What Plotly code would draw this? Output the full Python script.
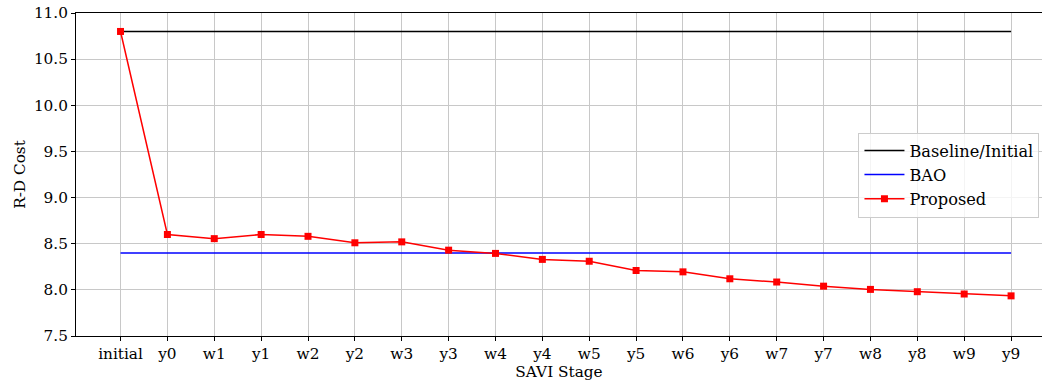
import plotly.graph_objects as go

stages = ["initial", "y0", "w1", "y1", "w2", "y2", "w3", "y3", "w4", "y4",
          "w5", "y5", "w6", "y6", "w7", "y7", "w8", "y8", "w9", "y9"]
baseline = 10.8
bao = 8.4
proposed = [10.8, 8.60, 8.555, 8.60, 8.58, 8.51, 8.52, 8.43, 8.395, 8.33,
            8.31, 8.21, 8.195, 8.12, 8.085, 8.04, 8.005, 7.98, 7.955, 7.935]

x = list(range(len(stages)))
font = "DejaVu Serif"
fs = 15.3

fig = go.Figure()
fig.add_trace(go.Scatter(x=x, y=[baseline] * len(x), mode="lines",
                         line=dict(color="black", width=1.5), name="Baseline/Initial"))
fig.add_trace(go.Scatter(x=x, y=[bao] * len(x), mode="lines",
                         line=dict(color="blue", width=1.5), name="BAO"))
fig.add_trace(go.Scatter(x=x, y=proposed, mode="lines+markers",
                         line=dict(color="red", width=1.5),
                         marker=dict(symbol="square", size=7, color="red"),
                         name="Proposed"))

fig.update_layout(
    width=1042, height=385,
    margin=dict(l=75.5, r=0, t=12.5, b=49, autoexpand=False),
    plot_bgcolor="white", paper_bgcolor="white",
    font=dict(family=font, size=fs, color="black"),
    showlegend=True,
    legend=dict(x=0.81, y=0.63, xanchor="left", yanchor="top",
                bgcolor="rgba(255,255,255,0.8)", bordercolor="#cccccc", borderwidth=1,
                font=dict(family=font, size=16.2), tracegroupgap=2, itemwidth=40),
)
fig.update_xaxes(
    tickmode="array", tickvals=x, ticktext=stages,
    range=[-0.95, 19.66], automargin=False,
    showgrid=True, gridcolor="#c8c8c8", gridwidth=1,
    showline=True, linecolor="black", linewidth=1, mirror=True,
    ticks="outside", ticklen=4, tickcolor="black",
    zeroline=False,
    title=dict(text="SAVI Stage", font=dict(family=font, size=fs), standoff=3),
)
fig.update_yaxes(
    range=[7.5, 11.0], dtick=0.5, tickformat=".1f", automargin=False,
    showgrid=True, gridcolor="#c8c8c8", gridwidth=1,
    showline=True, linecolor="black", linewidth=1, mirror=False,
    ticks="outside", ticklen=4, tickcolor="black",
    zeroline=False,
    title=dict(text="R-D Cost", font=dict(family=font, size=fs), standoff=4),
)

fig.write_html("out.html", config={"displayModeBar": False},
               post_script="document.body.style.margin='0';document.body.style.overflow='hidden';")
